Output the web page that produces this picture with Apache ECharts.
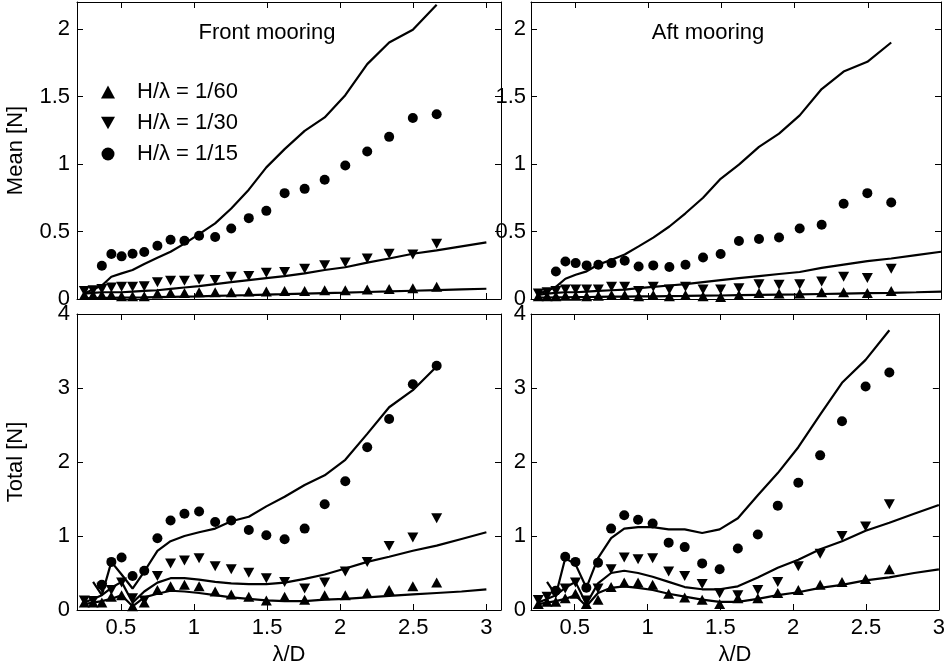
<!DOCTYPE html>
<html>
<head>
<meta charset="utf-8">
<script src="https://cdn.jsdelivr.net/npm/echarts@6/dist/echarts.min.js"></script>
<style>
html,body{margin:0;padding:0;background:#fff;}
#chart{width:948px;height:668px;}
</style>
</head>
<body>
<div id="chart"></div>
<script>
// ---- data ----
const panelTitles = ['Front mooring', 'Aft mooring'];
const seriesNames = ['H/λ = 1/60', 'H/λ = 1/30', 'H/λ = 1/15'];
const xTicks = [0.5, 1, 1.5, 2, 2.5, 3];
const meanTicks = [0, 0.5, 1, 1.5, 2];
const totalTicks = [0, 1, 2, 3, 4];

// experimental lambda/D values
const lambdaD = [0.25, 0.31, 0.37, 0.435, 0.505, 0.58, 0.66, 0.75, 0.84, 0.935, 1.035, 1.145, 1.255, 1.375, 1.495, 1.62, 1.757, 1.894, 2.035, 2.185, 2.335, 2.497, 2.66];
// numerical lambda/D values
const lambdaDNum = [0.25, 0.31, 0.37, 0.435, 0.505, 0.58, 0.66, 0.75, 0.84, 0.935, 1.035, 1.145, 1.255, 1.375, 1.495, 1.62, 1.757, 1.894, 2.035, 2.185, 2.335, 2.497, 2.66, 2.83, 3.0];

// Mean, front mooring (experiments)
const meanFront60 = [0.03,0.03,0.03,0.03,0.02,0.02,0.02,0.04,0.045,0.045,0.05,0.05,0.05,0.055,0.055,0.06,0.06,0.065,0.065,0.07,0.075,0.08,0.09];
const meanFront30 = [0.06,0.065,0.075,0.085,0.09,0.09,0.095,0.125,0.135,0.135,0.145,0.14,0.165,0.17,0.195,0.2,0.225,0.25,0.27,0.30,0.335,0.33,0.41];
const meanFront15 = [null,null,0.246,0.333,0.316,0.335,0.348,0.395,0.439,0.431,0.468,0.459,0.522,0.599,0.653,0.784,0.816,0.883,0.989,1.092,1.201,1.341,1.369];
// Mean, front mooring (numerical)
const numMeanFront60 = [0.005,0.007,0.008,0.009,0.01,0.011,0.012,0.014,0.016,0.018,0.02,0.023,0.026,0.029,0.033,0.036,0.04,0.044,0.047,0.052,0.056,0.061,0.066,0.071,0.076];
const numMeanFront30 = [0.04,0.045,0.05,0.05,0.05,0.055,0.06,0.065,0.075,0.085,0.095,0.11,0.125,0.14,0.155,0.17,0.19,0.215,0.235,0.27,0.30,0.335,0.36,0.39,0.42];
const numMeanFront15 = [0.04,0.07,0.10,0.165,0.19,0.215,0.26,0.305,0.35,0.41,0.48,0.56,0.67,0.81,0.975,1.11,1.245,1.345,1.51,1.74,1.90,1.995,2.18];

// Mean, aft mooring (experiments)
const meanAft60 = [0.02,0.02,0.02,0.025,0.025,0.02,0.025,0.03,0.03,0.02,0.03,0.02,0.03,0.02,0.015,0.03,0.045,0.04,0.04,0.05,0.05,0.045,0.06];
const meanAft30 = [0.04,0.05,0.06,0.07,0.07,0.07,0.07,0.09,0.09,0.06,0.09,0.07,0.09,0.07,0.07,0.08,0.11,0.105,0.11,0.13,0.165,0.155,0.225];
const meanAft15 = [null,null,0.204,0.278,0.266,0.249,0.254,0.266,0.283,0.241,0.249,0.237,0.254,0.308,0.333,0.429,0.444,0.456,0.522,0.55,0.705,0.784,0.715];
// Mean, aft mooring (numerical)
const numMeanAft60 = [0.01,0.011,0.012,0.013,0.014,0.015,0.016,0.017,0.018,0.019,0.02,0.022,0.023,0.025,0.026,0.028,0.03,0.032,0.034,0.037,0.04,0.043,0.046,0.05,0.055];
const numMeanAft30 = [0.03,0.04,0.045,0.05,0.05,0.055,0.06,0.065,0.07,0.08,0.09,0.1,0.11,0.125,0.14,0.155,0.17,0.185,0.2,0.23,0.255,0.28,0.30,0.325,0.35];
const numMeanAft15 = [0.04,0.06,0.09,0.15,0.18,0.205,0.255,0.29,0.33,0.39,0.455,0.537,0.635,0.75,0.89,0.995,1.127,1.225,1.36,1.555,1.685,1.757,1.90];

// Total, front mooring (experiments)
const totFront60 = [0.1,0.1,0.1,0.18,0.2,0.05,0.1,0.27,0.32,0.34,0.32,0.25,0.21,0.18,0.13,0.18,0.14,0.2,0.2,0.23,0.27,0.32,0.37];
const totFront30 = [0.13,0.12,0.3,0.27,0.37,0.16,0.13,0.46,0.63,0.67,0.70,0.59,0.55,0.505,0.43,0.38,0.29,0.37,0.52,0.65,0.865,0.98,1.24];
const totFront15 = [null,null,0.34,0.65,0.71,0.46,0.53,0.97,1.21,1.30,1.33,1.19,1.21,1.08,1.01,0.955,1.10,1.43,1.74,2.20,2.58,3.05,3.30];
// Total, front mooring (numerical)
const numTotFront60 = [0.08,0.1,0.12,0.15,0.2,0.05,0.17,0.22,0.26,0.25,0.23,0.2,0.17,0.15,0.13,0.12,0.12,0.14,0.15,0.17,0.19,0.21,0.23,0.25,0.28];
const numTotFront30 = [0.1,0.15,0.2,0.3,0.38,0.1,0.25,0.37,0.43,0.43,0.41,0.38,0.36,0.35,0.35,0.37,0.42,0.48,0.56,0.65,0.72,0.80,0.87,0.96,1.05];
const numTotFront15 = [null,0.38,0.2,0.65,0.48,0.29,0.52,0.8,0.93,1.0,1.05,1.1,1.2,1.26,1.4,1.53,1.69,1.82,2.03,2.38,2.74,2.97,3.29];

// Total, aft mooring (experiments)
const totAft60 = [0.08,0.11,0.11,0.16,0.22,0.08,0.14,0.31,0.37,0.37,0.34,0.22,0.17,0.14,0.08,0.16,0.16,0.23,0.27,0.34,0.38,0.42,0.55];
const totAft30 = [0.135,0.18,0.22,0.29,0.37,0.13,0.29,0.55,0.71,0.685,0.70,0.52,0.46,0.35,0.225,0.20,0.27,0.38,0.59,0.76,1.0,1.13,1.43];
const totAft15 = [null,null,0.26,0.72,0.65,0.30,0.64,1.10,1.28,1.22,1.17,0.91,0.85,0.63,0.55,0.83,1.02,1.41,1.72,2.09,2.55,3.02,3.21];
// Total, aft mooring (numerical)
const numTotAft60 = [0.08,0.1,0.12,0.15,0.2,0.05,0.23,0.3,0.32,0.3,0.27,0.22,0.18,0.14,0.11,0.11,0.15,0.2,0.24,0.3,0.34,0.4,0.44,0.5,0.55];
const numTotAft30 = [0.1,0.15,0.2,0.3,0.38,0.08,0.36,0.5,0.53,0.5,0.45,0.38,0.31,0.28,0.28,0.32,0.44,0.57,0.68,0.82,0.93,1.07,1.18,1.30,1.42];
const numTotAft15 = [null,0.38,0.2,0.7,0.62,0.3,0.7,0.97,1.1,1.12,1.12,1.09,1.09,1.04,1.09,1.24,1.55,1.85,2.2,2.64,3.07,3.38,3.78];

// ---- build ----
const FONT = 'Liberation Sans, Arial, Helvetica, sans-serif';
const FS = 22;
const triDown = 'path://M0,0L10,0L5,9Z';

const panels = [
  {grid:{left:77, top:2, width:424, height:297}, xMax:3.1, yMax:2.2, yTicks:meanTicks, showX:false, yName:'Mean [N]', labelMargin:7,
   exp:[meanFront60, meanFront30, meanFront15], num:[numMeanFront60, numMeanFront30, numMeanFront15]},
  {grid:{left:531, top:2, width:410, height:297}, xMax:3.0, yMax:2.2, yTicks:meanTicks, showX:false, yName:'', labelMargin:5,
   exp:[meanAft60, meanAft30, meanAft15], num:[numMeanAft60, numMeanAft30, numMeanAft15]},
  {grid:{left:77, top:314, width:424, height:296}, xMax:3.1, yMax:4, yTicks:totalTicks, showX:true, yName:'Total [N]', labelMargin:7,
   exp:[totFront60, totFront30, totFront15], num:[numTotFront60, numTotFront30, numTotFront15]},
  {grid:{left:531, top:314, width:410, height:296}, xMax:3.0, yMax:4, yTicks:totalTicks, showX:true, yName:'', labelMargin:5,
   exp:[totAft60, totAft30, totAft15], num:[numTotAft60, numTotAft30, numTotAft15]}
];

const symbols = ['triangle', triDown, 'circle'];
const symSizes = [[11,10],[11,10],10];

const grids = [], xAxes = [], yAxes = [], series = [];
const axisLine = {show:true, onZero:false, lineStyle:{color:'#000', width:1}};
const tickStyle = {color:'#000', width:1};

panels.forEach((p, i) => {
  grids.push(Object.assign({containLabel:false}, p.grid));
  // bottom x
  xAxes.push({type:'value', gridIndex:i, position:'bottom', min:0.2, max:p.xMax,
    axisLine:axisLine, splitLine:{show:false},
    axisTick:{show:true, inside:true, length:6, lineStyle:tickStyle, customValues:xTicks},
    axisLabel:{show:p.showX, customValues:xTicks, color:'#000', fontFamily:FONT, fontSize:FS, margin:7},
    name:p.showX ? 'λ/D' : '', nameLocation:'middle', nameGap:34,
    nameTextStyle:{color:'#000', fontFamily:FONT, fontSize:FS}
  });
  // top x (box)
  xAxes.push({type:'value', gridIndex:i, position:'top', min:0.2, max:p.xMax,
    axisLine:axisLine, splitLine:{show:false},
    axisTick:{show:true, inside:true, length:6, lineStyle:tickStyle, customValues:xTicks},
    axisLabel:{show:false, customValues:xTicks}
  });
  // left y
  yAxes.push({type:'value', gridIndex:i, position:'left', min:0, max:p.yMax,
    axisLine:axisLine, splitLine:{show:false},
    axisTick:{show:true, inside:true, length:6, lineStyle:tickStyle, customValues:p.yTicks},
    axisLabel:{show:true, customValues:p.yTicks, color:'#000', fontFamily:FONT, fontSize:FS, margin:p.labelMargin},
    name:p.yName, nameLocation:'middle', nameGap:50, nameRotate:90,
    nameTextStyle:{color:'#000', fontFamily:FONT, fontSize:FS}
  });
  // right y (box)
  yAxes.push({type:'value', gridIndex:i, position:'right', min:0, max:p.yMax,
    axisLine:axisLine, splitLine:{show:false},
    axisTick:{show:true, inside:true, length:6, lineStyle:tickStyle, customValues:p.yTicks},
    axisLabel:{show:false, customValues:p.yTicks}
  });

  for (let k = 0; k < 3; k++) {
    series.push({
      type:'line', name:'num' + i + '_' + k,
      xAxisIndex:2*i, yAxisIndex:2*i,
      data:lambdaDNum.slice(0, p.num[k].length).map((x, j) => [x, p.num[k][j]]),
      showSymbol:false, symbol:'none', connectNulls:false,
      lineStyle:{color:'#000', width:2.2}, itemStyle:{color:'#000'},
      silent:true, z:2
    });
  }
  for (let k = 0; k < 3; k++) {
    series.push({
      type:'scatter', name:seriesNames[k],
      xAxisIndex:2*i, yAxisIndex:2*i,
      data:lambdaD.map((x, j) => [x, p.exp[k][j]]).filter(d => d[1] !== null),
      symbol:symbols[k], symbolSize:symSizes[k],
      itemStyle:{color:'#000', opacity:1},
      silent:true, z:3
    });
  }
});

const chart = echarts.init(document.getElementById('chart'), null, {renderer:'canvas'});
chart.setOption({
  animation:false,
  backgroundColor:'#fff',
  grid:grids,
  xAxis:xAxes,
  yAxis:yAxes,
  series:series,
  legend:{
    show:true, data:seriesNames.map((n, k) => ({name:n, icon:symbols[k]})),
    orient:'vertical', left:96, top:76,
    itemWidth:14, itemHeight:13, itemGap:9,
    textStyle:{color:'#000', fontFamily:FONT, fontSize:FS, padding:[0,0,0,17]},
    selectedMode:false
  },
  graphic:[
    {type:'text', style:{text:panelTitles[0], font:FS + 'px ' + FONT, fill:'#000', x:267, y:33, textAlign:'center', textVerticalAlign:'middle'}},
    {type:'text', style:{text:panelTitles[1], font:FS + 'px ' + FONT, fill:'#000', x:708, y:33, textAlign:'center', textVerticalAlign:'middle'}}
  ]
});
</script>
</body>
</html>
